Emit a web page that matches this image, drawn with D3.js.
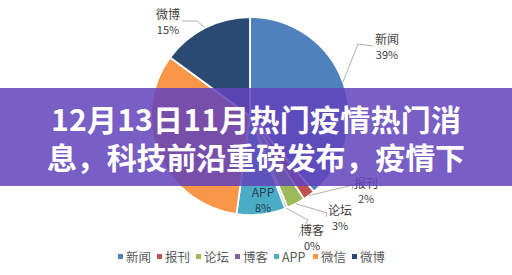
<!DOCTYPE html>
<html>
<head>
<meta charset="utf-8">
<script src="https://cdn.jsdelivr.net/npm/d3@7"></script>
<style>
  html, body { margin: 0; padding: 0; background: #fff; }
  svg { display: block; }
  text { font-family: "Noto Sans CJK SC", "Noto Sans", sans-serif; }
</style>
</head>
<body>
<div id="chart"></div>
<script>
'use strict';
// chart data
const categories = ['新闻', '报刊', '论坛', '博客', 'APP', '微信', '微博']
const shares = [39, 2, 3, 0.4, 8, 33, 15]
const colors = ['#4f81bd', '#c0504d', '#9bbb59', '#8064a2', '#4bacc6', '#f79646', '#2b4a72']
const shownLabels = ['新闻', '报刊', '论坛', '博客', 'APP', '微博']
const titleLines = ['12月13日11月热门疫情热门消', '息，科技前沿重磅发布，疫情下']

const W = 512, H = 275
const cx = 250, cy = 116, radius = 99

// label placement around the pie (offset from centre), Excel style
const labelOffset = {
    '新闻': [137, -76], '报刊': [116, 68], '论坛': [90, 95],
    '博客': [62, 115], 'APP': [13, 77], '微博': [-82, -101]
}
// leader line bend points (offset from centre)
const leaderBend = {
    '新闻': [108, -72], '报刊': [103, 69], '论坛': [77, 97],
    '博客': [58, 104], '微博': [-53, -95]
}

const svg = d3.select('#chart').append('svg')
    .attr('width', W)
    .attr('height', H)

const pie = d3.pie().sort(null).value(d => d)
const arcs = pie(shares)
const arc = d3.arc().innerRadius(0).outerRadius(radius)

const g = svg.append('g').attr('transform', `translate(${cx},${cy})`)

g.selectAll('path.slice') // Draw pie slices
    .data(arcs).enter().append('path')
    .attr('class', 'slice')
    .attr('d', arc)
    .attr('fill', (d, i) => colors[i])
    .attr('stroke', '#fff')
    .attr('stroke-width', 1.8)

// leader lines + data labels
arcs.forEach((d, i) => {
    const name = categories[i]
    if (!shownLabels.includes(name)) return
    const [lx, ly] = labelOffset[name]
    const inside = name === 'APP'
    const txtColor = inside ? '#2a3f55' : '#404040'
    if (leaderBend[name]) {
        const mid = (d.startAngle + d.endAngle) / 2
        const edge = [Math.sin(mid) * radius, -Math.cos(mid) * radius]
        const bend = leaderBend[name]
        const end = [lx + (lx > 0 ? -14 : 14), ly + 6]
        g.append('path')
            .attr('d', d3.line()([edge, bend, end]))
            .attr('fill', 'none')
            .attr('stroke', '#a6a6a6')
            .attr('stroke-width', 0.9)
    }
    const t = g.append('text')
        .attr('text-anchor', 'middle')
        .attr('fill', txtColor)
        .attr('font-size', 12)
    t.append('tspan').attr('x', lx).attr('y', ly + 4).text(name)
    t.append('tspan').attr('x', lx).attr('y', ly + 19)
        .attr('font-size', 11)
        .text(`${Math.round(d.data)}%`)
})

// legend
const legendX = d3.scalePoint().domain(categories).range([118, 352])
const legend = svg.append('g').selectAll('g')
    .data(categories).enter().append('g')
    .attr('transform', d => `translate(${legendX(d)},257)`)
legend.append('rect')
    .attr('x', 0).attr('y', -3)
    .attr('width', 5).attr('height', 5)
    .attr('fill', (d, i) => colors[i])
legend.append('text')
    .attr('x', 8).attr('y', 4.5)
    .attr('font-size', 12.5)
    .attr('fill', '#595959')
    .text(d => d)

// purple banner with headline
svg.append('rect')
    .attr('x', 0).attr('y', 88)
    .attr('width', W).attr('height', 98)
    .attr('fill', 'rgb(98,68,188)')
    .attr('fill-opacity', 0.86)

const titleLen = [410, 418]
svg.selectAll('text.title')
    .data(titleLines).enter().append('text')
    .attr('class', 'title')
    .attr('x', W / 2)
    .attr('y', (d, i) => 131 + i * 38)
    .attr('text-anchor', 'middle')
    .attr('textLength', (d, i) => titleLen[i])
    .attr('lengthAdjust', 'spacing')
    .attr('font-size', 30)
    .attr('font-weight', 'bold')
    .attr('fill', '#fff')
    .text(d => d)
</script>
</body>
</html>
